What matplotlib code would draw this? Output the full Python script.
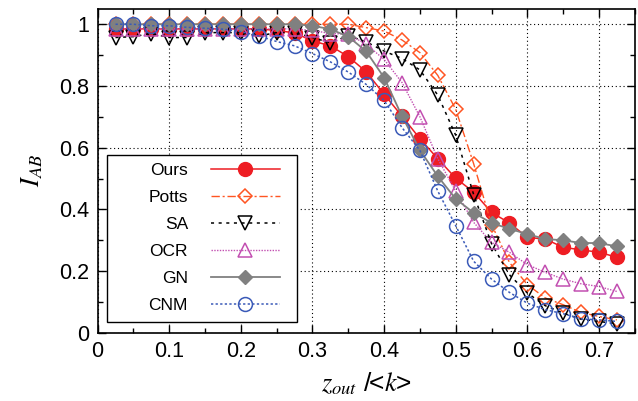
import matplotlib
matplotlib.use('Agg')
import matplotlib.pyplot as plt
import matplotlib.ticker as ticker
from matplotlib.patches import Rectangle

# データ
z = [0.025, 0.05, 0.075, 0.1, 0.125, 0.15, 0.175, 0.2, 0.225, 0.25,
     0.275, 0.3, 0.325, 0.35, 0.375, 0.4, 0.425, 0.45, 0.475, 0.5,
     0.525, 0.55, 0.575, 0.6, 0.625, 0.65, 0.675, 0.7, 0.725]

ours = [0.985, 0.985, 0.985, 0.985, 0.985, 0.985, 0.985, 0.985, 0.985, 0.98,
        0.972, 0.946, 0.93, 0.895, 0.846, 0.773, 0.702, 0.629, 0.564, 0.501,
        0.456, 0.39, 0.356, 0.309, 0.304, 0.277, 0.269, 0.261, 0.245]
potts = [1.0, 1.0, 1.0, 1.0, 1.0, 1.0, 1.0, 1.0, 1.0, 1.0,
         1.0, 1.0, 1.0, 1.0, 0.989, 0.978, 0.949, 0.908, 0.834, 0.724,
         0.548, 0.351, 0.228, 0.156, 0.113, 0.091, 0.066, 0.053, 0.042]
sa = [0.957, 0.96, 0.97, 0.957, 0.957, 0.973, 0.973, 0.973, 0.962, 0.973,
      0.973, 0.957, 0.94, 0.963, 0.943, 0.913, 0.889, 0.852, 0.77, 0.64,
      0.448, 0.289, 0.188, 0.129, 0.088, 0.064, 0.044, 0.037, 0.029]
ocr = [0.985, 0.985, 0.985, 0.985, 0.985, 0.985, 0.985, 0.985, 0.985, 0.985,
       0.985, 0.98, 0.97, 0.968, 0.935, 0.886, 0.811, 0.70, 0.564, 0.459,
       0.358, 0.293, 0.261, 0.221, 0.196, 0.174, 0.159, 0.150, 0.134]
gn = [1.0, 1.0, 1.0, 1.0, 1.0, 1.0, 1.0, 1.0, 1.0, 1.0,
      1.0, 0.995, 0.984, 0.96, 0.912, 0.827, 0.702, 0.592, 0.507, 0.434,
      0.389, 0.356, 0.337, 0.32, 0.304, 0.30, 0.291, 0.291, 0.28]
cnm = [1.0, 1.0, 0.995, 0.995, 0.99, 0.987, 0.984, 0.976, 0.962, 0.944,
       0.93, 0.905, 0.878, 0.845, 0.805, 0.753, 0.665, 0.591, 0.459, 0.347,
       0.232, 0.174, 0.131, 0.096, 0.075, 0.062, 0.045, 0.042, 0.037]

xticks = [0, 0.1, 0.2, 0.3, 0.4, 0.5, 0.6, 0.7]
xticklabels = ['0', '0.1', '0.2', '0.3', '0.4', '0.5', '0.6', '0.7']
yticks = [0, 0.2, 0.4, 0.6, 0.8, 1.0]
yticklabels = ['0', '0.2', '0.4', '0.6', '0.8', '1']

plt.rcParams['font.family'] = ['Liberation Sans', 'DejaVu Sans']
plt.rcParams['mathtext.fontset'] = 'stix'

fig = plt.figure(figsize=(6.38, 4.01), dpi=100)
ax = fig.add_axes([0.153, 0.170, 0.842, 0.808])

# 系列ごとの描画（凡例の順番＝重ね順）
ax.plot(z, ours, color='#ee1d23', linestyle='-', lw=1.1, marker='o',
        markersize=10, markerfacecolor='#ee1d23', markeredgecolor='#ee1d23', label='Ours')
ax.plot(z, potts, color='#ff5522', linestyle=(0, (6, 2, 1.5, 2)), lw=1.0, marker='D',
        markersize=7.5, markerfacecolor='none', markeredgecolor='#ff5522', markeredgewidth=1.1, label='Potts')
ax.plot(z, sa, color='black', linestyle=(0, (2, 3)), lw=1.1, marker='v',
        markersize=10, markerfacecolor='none', markeredgecolor='black', markeredgewidth=1.1, label='SA')
ax.plot(z, ocr, color='#c24fb1', linestyle=(0, (1, 1)), lw=1.0, marker='^',
        markersize=10, markerfacecolor='none', markeredgecolor='#c24fb1', markeredgewidth=1.1, label='OCR')
ax.plot(z, gn, color='#808080', linestyle='-', lw=1.3, marker='D',
        markersize=7, markerfacecolor='#808080', markeredgecolor='#808080', label='GN')
ax.plot(z, cnm, color='#3a5ab8', linestyle=(0, (1.5, 1.5)), lw=1.1, marker='o',
        markersize=10, markerfacecolor='none', markeredgecolor='#3a5ab8', markeredgewidth=1.1, label='CNM')

ax.set_xlim(0, 0.75)
ax.set_ylim(0, 1.05)
ax.set_xticks(xticks)
ax.set_xticklabels(xticklabels)
ax.set_yticks(yticks)
ax.set_yticklabels(yticklabels)
ax.xaxis.set_minor_locator(ticker.MultipleLocator(0.05))
ax.yaxis.set_minor_locator(ticker.MultipleLocator(0.1))
ax.tick_params(which='both', direction='in', top=True, right=True, labelsize=15.5, pad=6)
ax.tick_params(which='major', length=6, width=1)
ax.tick_params(which='minor', length=3.5, width=1)
for s in ax.spines.values():
    s.set_linewidth(1.2)
ax.grid(True, which='major', color='black', linestyle=(0, (1, 2.5)), lw=0.8)

ax.set_xlabel(r'$z_{out}$ /<$k$>', fontsize=19, labelpad=6)
ax.set_ylabel(r'$I_{AB}$', fontsize=19, labelpad=10)

# 凡例の枠（gnuplot風に左側を広く）
frame = Rectangle((0.0177, 0.034), 0.3533, 0.515, transform=ax.transAxes,
                  facecolor='white', edgecolor='black', lw=1.0, zorder=4.5)
ax.add_patch(frame)

leg = ax.legend(loc='center right', bbox_to_anchor=(0.3395, 0.293), borderaxespad=0,
                markerfirst=False, fontsize=12.5, handlelength=4.0, handletextpad=1.3,
                labelspacing=0.68, borderpad=0, frameon=False)
# ラベルを右寄せ
for col in leg._legend_handle_box.get_children():
    col.align = 'right'

plt.savefig('out.png', dpi=100)
plt.close()
